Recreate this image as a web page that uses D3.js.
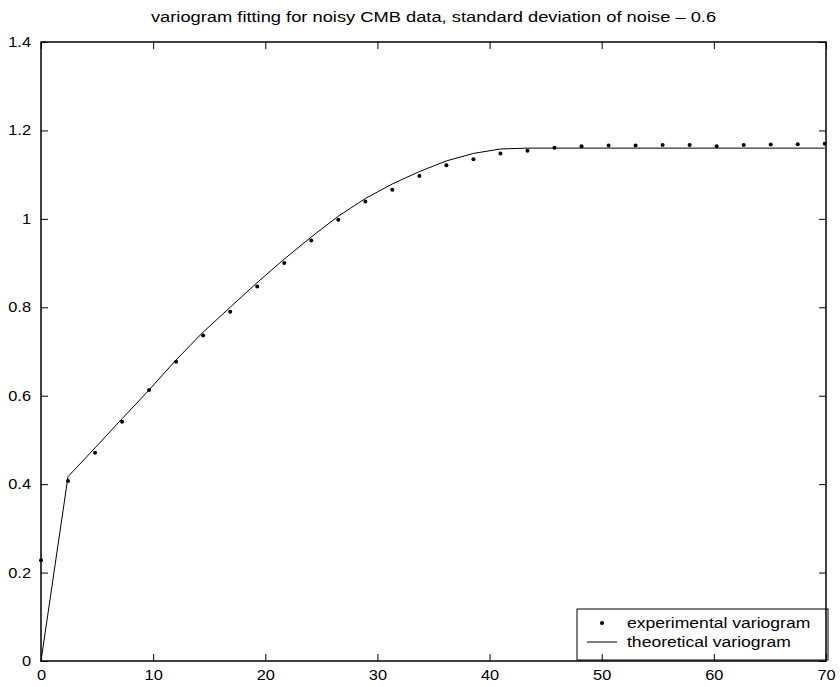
<!DOCTYPE html>
<html>
<head>
<meta charset="utf-8">
<script src="https://cdn.jsdelivr.net/npm/d3@7"></script>
<style>
  html, body { margin: 0; padding: 0; background: #fff; }
  svg { display: block; }
  text { font-family: "Liberation Sans", Arial, Helvetica, sans-serif; fill: #000; }
</style>
</head>
<body>
<svg id="chart" width="840" height="687"></svg>
<script>
// Lag distances shared by both series
const lags = [0, 2.41, 4.82, 7.23, 9.64, 12.05, 14.46, 16.87, 19.28, 21.69,
              24.1, 26.51, 28.92, 31.33, 33.74, 36.15, 38.56, 40.97, 43.38, 45.79,
              48.2, 50.61, 53.02, 55.43, 57.84, 60.25, 62.66, 65.07, 67.48, 69.89];

// Experimental variogram (dots)
const experimental = [0.228, 0.407, 0.471, 0.541, 0.613, 0.677, 0.736, 0.790, 0.847, 0.900,
                      0.951, 0.998, 1.039, 1.066, 1.097, 1.121, 1.135, 1.148, 1.154, 1.161,
                      1.164, 1.166, 1.166, 1.167, 1.167, 1.164, 1.167, 1.168, 1.169, 1.170];

// Theoretical variogram (line)
const theoretical = [0, 0.417, 0.482, 0.548, 0.613, 0.681, 0.744, 0.800, 0.856, 0.909,
                     0.959, 1.006, 1.046, 1.079, 1.107, 1.131, 1.148, 1.158, 1.160, 1.160,
                     1.160, 1.160, 1.160, 1.160, 1.160, 1.160, 1.160, 1.160, 1.160, 1.160];

const xTicks = [0, 10, 20, 30, 40, 50, 60, 70];
const yTicks = [0, 0.2, 0.4, 0.6, 0.8, 1, 1.2, 1.4];

const titleText = "variogram fitting for noisy CMB data, standard deviation of noise \u2013 0.6";
const legendLabels = ["experimental variogram", "theoretical variogram"];

const svg = d3.select("#chart");
const W = 840, H = 687;
const margin = { left: 41, right: 14, top: 42, bottom: 26 };
const x0 = margin.left, x1 = W - margin.right;
const y0 = H - margin.bottom, y1 = margin.top;

// Text is set in a slightly widened sans face
const stretch = 1.17;

const x = d3.scaleLinear().domain([0, 70]).range([x0, x1]);
const y = d3.scaleLinear().domain([0, 1.4]).range([y0, y1]);

const fmt = d => (d === 0 ? "0" : (Number.isInteger(d) ? String(d) : String(+d.toFixed(1))));

// Title
svg.append("text")
  .attr("transform", `translate(${(x0 + x1) / 2},22) scale(1.22,1)`)
  .attr("text-anchor", "middle")
  .style("font-size", "15px")
  .text(titleText);

const plot = svg.append("g");

// Theoretical line
const line = d3.line().x((d, i) => x(lags[i])).y(d => y(d));
plot.append("path")
  .datum(theoretical)
  .attr("fill", "none")
  .attr("stroke", "#000")
  .attr("stroke-width", 1)
  .attr("d", line);

// Experimental dots
plot.selectAll("circle.pt")
  .data(experimental)
  .join("circle")
  .attr("class", "pt")
  .attr("cx", (d, i) => x(lags[i]))
  .attr("cy", d => y(d))
  .attr("r", 2)
  .attr("fill", "#000");

// Legend
const lg = svg.append("g").attr("transform", "translate(577,609)");
lg.append("rect")
  .attr("x", 0).attr("y", 0)
  .attr("width", 251).attr("height", 51)
  .attr("fill", "#fff")
  .attr("stroke", "#000")
  .attr("stroke-width", 1);
lg.append("circle").attr("cx", 25).attr("cy", 14).attr("r", 2).attr("fill", "#000");
lg.append("line")
  .attr("x1", 10).attr("x2", 40).attr("y1", 33).attr("y2", 33)
  .attr("stroke", "#000").attr("stroke-width", 1);
lg.selectAll("text.lab")
  .data(legendLabels)
  .join("text")
  .attr("class", "lab")
  .attr("transform", (d, i) => `translate(50,${19 + i * 19}) scale(${stretch},1)`)
  .style("font-size", "15px")
  .text(d => d);

// Axes: ticks point inward on all four sides, box drawn around the plot
const tickLen = 7;
const axes = svg.append("g");

const gBottom = axes.append("g")
  .attr("transform", `translate(0,${y0})`)
  .call(d3.axisBottom(x).tickValues(xTicks).tickFormat(fmt).tickSizeInner(-tickLen).tickSizeOuter(0).tickPadding(9));
axes.append("g")
  .attr("transform", `translate(0,${y1})`)
  .call(d3.axisTop(x).tickValues(xTicks).tickFormat("").tickSizeInner(-tickLen).tickSizeOuter(0));
const gLeft = axes.append("g")
  .attr("transform", `translate(${x0},0)`)
  .call(d3.axisLeft(y).tickValues(yTicks).tickFormat(fmt).tickSizeInner(-tickLen).tickSizeOuter(0).tickPadding(10));
axes.append("g")
  .attr("transform", `translate(${x1},0)`)
  .call(d3.axisRight(y).tickValues(yTicks).tickFormat("").tickSizeInner(-tickLen).tickSizeOuter(0));

axes.selectAll(".domain").remove();
axes.selectAll(".tick line").attr("stroke", "#000").attr("stroke-width", 1);
axes.selectAll(".tick text")
  .style("font-family", "\"Liberation Sans\", Arial, Helvetica, sans-serif")
  .style("font-size", "14px")
  .attr("fill", "#000")
  .attr("transform", `scale(${stretch},1)`);
gLeft.selectAll(".tick text").attr("x", -10 / stretch);

axes.append("rect")
  .attr("x", x0).attr("y", y1)
  .attr("width", x1 - x0).attr("height", y0 - y1)
  .attr("fill", "none")
  .attr("stroke", "#000")
  .attr("stroke-width", 1.5);
</script>
</body>
</html>
